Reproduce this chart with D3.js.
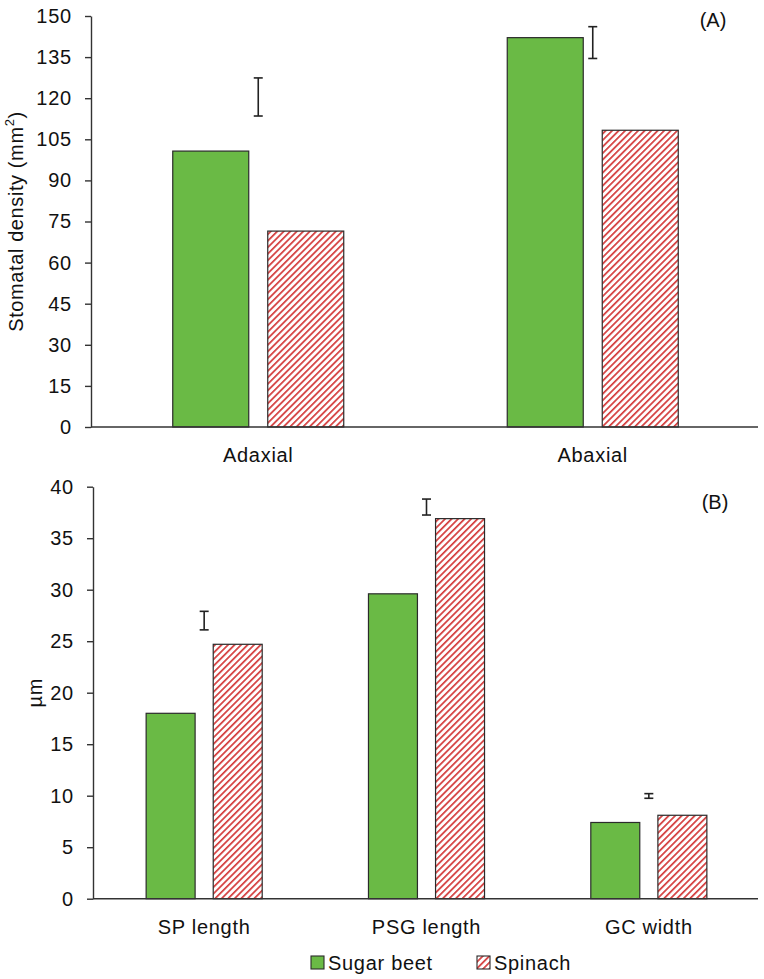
<!DOCTYPE html>
<html>
<head>
<meta charset="utf-8">
<script src="https://cdn.jsdelivr.net/npm/d3@7"></script>
<style>
  html, body { margin: 0; padding: 0; background: #fff; }
  svg text { font-family: "Liberation Sans", Arial, Helvetica, sans-serif; fill: #111; }
</style>
</head>
<body>
<svg id="chart" width="764" height="979"></svg>
<script>
// ---------- DATA ----------
const series = ["Sugar beet", "Spinach"];

const categoriesA = ["Adaxial", "Abaxial"];
const sugarBeetA = [100.7, 142.1];
const spinachA = [71.5, 108.3];
const errLowA = [113.5, 134.5];
const errHighA = [127.4, 146.1];
const ticksA = [0, 15, 30, 45, 60, 75, 90, 105, 120, 135, 150];

const categoriesB = ["SP length", "PSG length", "GC width"];
const sugarBeetB = [18.0, 29.6, 7.4];
const spinachB = [24.7, 36.9, 8.1];
const errLowB = [26.1, 37.25, 9.75];
const errHighB = [27.9, 38.8, 10.2];
const ticksB = [0, 5, 10, 15, 20, 25, 30, 35, 40];

// ---------- STYLE ----------
const green = "#6aba45";
const hatchRed = "#d43c3c";
const edge = "#2b2b2b";
const axisCol = "#333";

const svg = d3.select("#chart");
const defs = svg.append("defs");
const pat = defs.append("pattern")
  .attr("id", "hatch")
  .attr("patternUnits", "userSpaceOnUse")
  .attr("width", 4.6).attr("height", 4.6)
  .attr("patternTransform", "rotate(45)");
pat.append("rect").attr("width", 4.6).attr("height", 4.6).attr("fill", "#fff");
pat.append("rect").attr("x", 0).attr("y", 0).attr("width", 1.7).attr("height", 4.6).attr("fill", hatchRed);

const fills = [green, "url(#hatch)"];

function panel(opts) {
  const { cats, vals, lo, hi, ticks, yMax, left, right, top, bottom,
          padInner, padOuter, barPad, yTitle, tag, tagX, tagY, titleX, labelY } = opts;
  const g = svg.append("g");
  const x0 = d3.scaleBand().domain(cats).range([left, right])
    .paddingInner(padInner).paddingOuter(padOuter);
  const x1 = d3.scaleBand().domain(series).range([0, x0.bandwidth()]).paddingInner(barPad);
  const y = d3.scaleLinear().domain([0, yMax]).range([bottom, top]);

  // bars
  series.forEach((s, si) => {
    g.selectAll(null).data(cats).enter().append("rect")
      .attr("x", c => x0(c) + x1(s))
      .attr("y", (c, i) => y(vals[si][i]))
      .attr("width", x1.bandwidth())
      .attr("height", (c, i) => y(0) - y(vals[si][i]))
      .attr("fill", fills[si])
      .attr("stroke", edge).attr("stroke-width", 1.2);
  });

  // error bars (between bars)
  const eb = g.selectAll(null).data(cats).enter().append("g")
    .attr("stroke", "#222").attr("stroke-width", 1.6);
  const cx = c => x0(c) + x0.bandwidth() / 2;
  eb.append("line").attr("x1", cx).attr("x2", cx)
    .attr("y1", (c, i) => y(lo[i])).attr("y2", (c, i) => y(hi[i]));
  eb.append("line").attr("x1", c => cx(c) - 4.5).attr("x2", c => cx(c) + 4.5)
    .attr("y1", (c, i) => y(lo[i])).attr("y2", (c, i) => y(lo[i]));
  eb.append("line").attr("x1", c => cx(c) - 4.5).attr("x2", c => cx(c) + 4.5)
    .attr("y1", (c, i) => y(hi[i])).attr("y2", (c, i) => y(hi[i]));

  // y axis
  const ya = g.append("g").attr("transform", `translate(${left},0)`)
    .call(d3.axisLeft(y).tickValues(ticks).tickSizeInner(6).tickSizeOuter(0).tickPadding(13));
  ya.select(".domain").attr("stroke", axisCol).attr("stroke-width", 1.4);
  ya.selectAll(".tick line").attr("stroke", axisCol).attr("stroke-width", 1.4);
  ya.selectAll(".tick text").style("font-size", "20px").attr("fill", "#111")
    .style("letter-spacing", "0.8px");

  // baseline
  g.append("line").attr("x1", left).attr("x2", right - 2)
    .attr("y1", y(0)).attr("y2", y(0))
    .attr("stroke", axisCol).attr("stroke-width", 1.4);

  // category labels
  g.selectAll(null).data(cats).enter().append("text")
    .attr("x", cx).attr("y", labelY)
    .attr("text-anchor", "middle").attr("dominant-baseline", "central")
    .style("font-size", "20px").style("letter-spacing", "0.7px")
    .text(d => d);

  // y title
  const t = g.append("text")
    .attr("transform", `translate(${titleX},${(top + bottom) / 2}) rotate(-90)`)
    .attr("text-anchor", "middle").attr("dominant-baseline", "central")
    .style("font-size", "20px").style("letter-spacing", "0.6px");
  yTitle(t);

  // panel tag
  g.append("text").attr("x", tagX).attr("y", tagY)
    .attr("text-anchor", "middle").attr("dominant-baseline", "central")
    .style("font-size", "20px").text(tag);
  return { x0, x1, y };
}

panel({
  cats: categoriesA, vals: [sugarBeetA, spinachA], lo: errLowA, hi: errHighA,
  ticks: ticksA, yMax: 150, left: 91, right: 760, top: 16, bottom: 427,
  padInner: 0.4888, padOuter: 0.2444, barPad: 0.2,
  yTitle: t => {
    t.append("tspan").text("Stomatal density (mm");
    t.append("tspan").attr("dy", -7).style("font-size", "13px").text("2");
    t.append("tspan").attr("dy", 7).text(")");
  },
  tag: "(A)", tagX: 713, tagY: 20, titleX: 16, labelY: 455
});

panel({
  cats: categoriesB, vals: [sugarBeetB, spinachB], lo: errLowB, hi: errHighB,
  ticks: ticksB, yMax: 40, left: 93, right: 760, top: 486.7, bottom: 898.7,
  padInner: 0.478, padOuter: 0.239, barPad: 0.27,
  yTitle: t => t.text("µm"),
  tag: "(B)", tagX: 715, tagY: 502, titleX: 35, labelY: 927
});

// legend
const legend = svg.append("g");
const legX = [311, 477];
series.forEach((s, i) => {
  legend.append("rect").attr("x", legX[i]).attr("y", 956)
    .attr("width", 13).attr("height", 13)
    .attr("fill", fills[i]).attr("stroke", edge).attr("stroke-width", 1.1);
  legend.append("text").attr("x", legX[i] + 17).attr("y", 962.5)
    .attr("dominant-baseline", "central")
    .style("font-size", "20px").style("letter-spacing", "0.7px")
    .text(s);
});
</script>
</body>
</html>
